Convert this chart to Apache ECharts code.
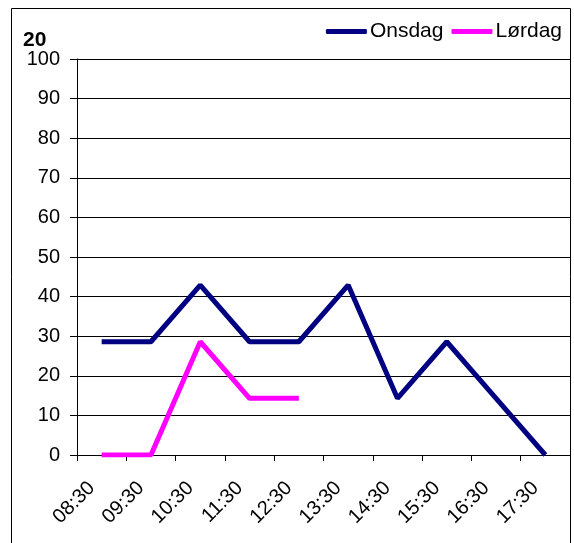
<!DOCTYPE html>
<html>
<head>
<meta charset="utf-8">
<script src="https://cdn.jsdelivr.net/npm/echarts@6/dist/echarts.min.js"></script>
<style>
	html, body { margin: 0; padding: 0; background: #fff; }
	#chart { width: 574px; height: 543px; }
</style>
</head>
<body>
<div id="chart"></div>
<script type="text/javascript">
var categories = ['08:30', '09:30', '10:30', '11:30', '12:30', '13:30', '14:30', '15:30', '16:30', '17:30'];
var onsdag = [28.6, 28.6, 42.9, 28.6, 28.6, 42.9, 14.3, 28.6, 14.3, 0];
var lordag = [0, 0, 28.6, 14.3, 14.3];

var font = 'Liberation Sans, Arial, sans-serif';
var myChart = echarts.init(document.getElementById('chart'));
myChart.setOption({
	animation: false,
	title: {
		text: '20',
		left: 18,
		top: 25,
		textStyle: { fontFamily: font, fontSize: 21, fontWeight: 'bold', color: '#000' }
	},
	legend: {
		right: 7,
		top: 16,
		itemWidth: 41,
		itemHeight: 5,
		itemGap: 8,
		icon: 'roundRect',
		textStyle: { fontFamily: font, fontSize: 21, color: '#000', padding: [0, 0, 0, -2] },
		data: ['Onsdag', 'Lørdag']
	},
	graphic: [{
		type: 'rect',
		shape: { x: 11.5, y: 8.5, width: 559, height: 560 },
		style: { fill: 'none', stroke: '#000', lineWidth: 1 },
		silent: true
	}],
	grid: { left: 77, right: 4, top: 59, bottom: 88 },
	xAxis: {
		type: 'category',
		data: categories,
		boundaryGap: true,
		axisLine: { lineStyle: { color: '#000', width: 1 } },
		axisTick: { show: true, length: 6, lineStyle: { color: '#000' } },
		axisLabel: { rotate: 45, fontFamily: font, fontSize: 20, color: '#000', margin: 20, padding: [0, 14, 0, 0], interval: 0 }
	},
	yAxis: {
		type: 'value',
		min: 0,
		max: 100,
		interval: 10,
		axisLine: { show: true, lineStyle: { color: '#000', width: 1 } },
		axisTick: { show: true, length: 7, lineStyle: { color: '#000' } },
		axisLabel: { fontFamily: font, fontSize: 20, color: '#000', margin: 17 },
		splitLine: { lineStyle: { color: '#000', width: 1 } }
	},
	series: [{
		name: 'Onsdag',
		type: 'line',
		data: onsdag,
		showSymbol: false,
		itemStyle: { color: '#000080' },
		lineStyle: { color: '#000080', width: 5 }
	}, {
		name: 'Lørdag',
		type: 'line',
		data: lordag,
		showSymbol: false,
		itemStyle: { color: '#FF00FF' },
		lineStyle: { color: '#FF00FF', width: 5 }
	}]
});
</script>
</body>
</html>
